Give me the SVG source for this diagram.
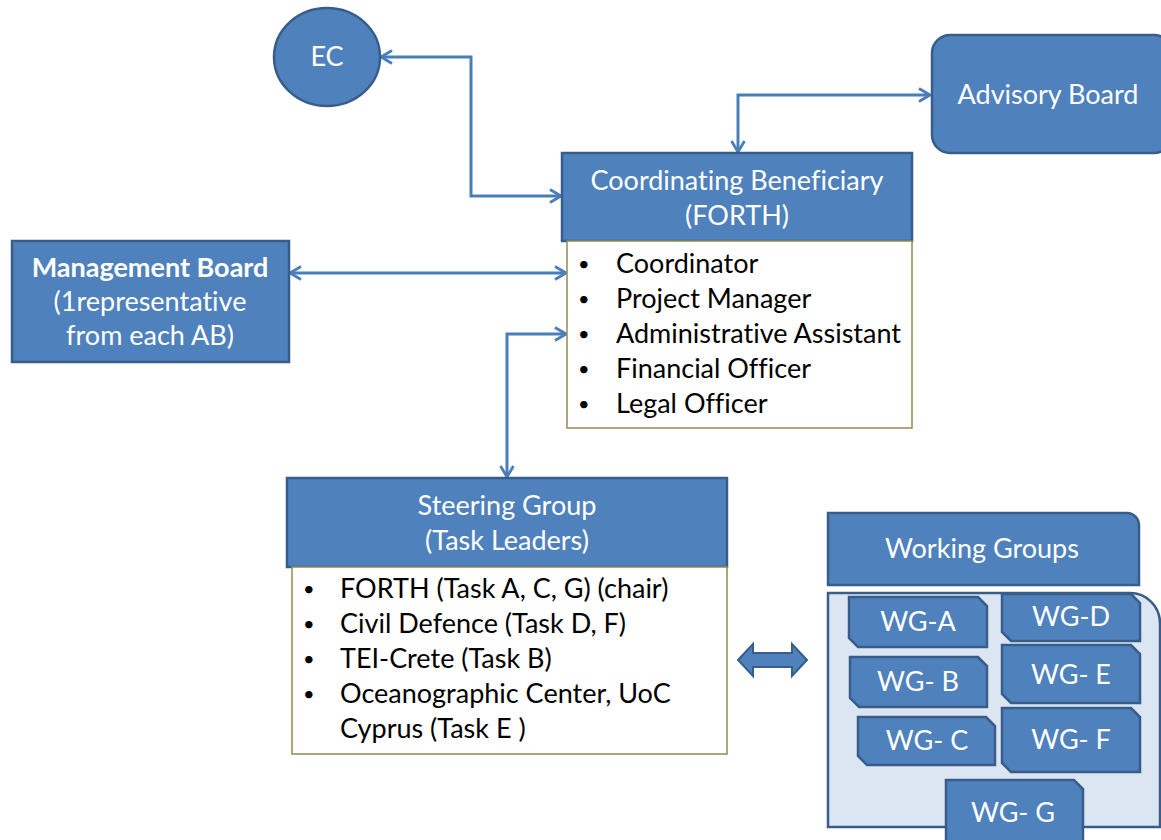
<svg xmlns="http://www.w3.org/2000/svg" width="1161" height="840" viewBox="0 0 1161 840">
<defs>
<style>
.box{fill:#4f81bd;stroke:#385d8a;stroke-width:2.5}
.list{fill:#ffffff;stroke:#948a54;stroke-width:1.5}
.wt{fill:#ffffff;font-family:Lato,"Liberation Sans",sans-serif;font-size:27px;text-anchor:middle;font-variant-ligatures:none}
.bt{fill:#000000;font-family:Lato,"Liberation Sans",sans-serif;font-size:27px;font-variant-ligatures:none}
.bl{font-size:20px}
.con{fill:none;stroke:#4a7ebb;stroke-width:3;marker-start:url(#chev);marker-end:url(#chev)}
.cont{fill:#dce6f2;stroke:#385d8a;stroke-width:2.5}
</style>
<marker id="chev" viewBox="0 0 14 16" refX="12.5" refY="8" markerWidth="14" markerHeight="16" markerUnits="userSpaceOnUse" orient="auto-start-reverse">
<path d="M1.5,1.5 L12.5,8 L1.5,14.5" fill="none" stroke="#4a7ebb" stroke-width="2.8"/>
</marker>
</defs>
<rect width="1161" height="840" fill="#ffffff"/>

<g id="connectors">
<path class="con" d="M381,57 H471 V196 H561"/>
<path class="con" d="M738,152 V95 H930"/>
<path class="con" d="M290,273 H566"/>
<path class="con" d="M566,334 H507 V477"/>
<path d="M738,660 L753,644 V653 H792 V644 L807,660 L792,676 V667 H753 V676 Z" fill="#4f81bd" stroke="#385d8a" stroke-width="2"/>
</g>

<g id="ec">
<ellipse class="box" cx="327" cy="57" rx="53" ry="49"/>
<text class="wt" x="327" y="66">EC</text>
</g>

<g id="advisory">
<rect class="box" x="932" y="35" width="240" height="118" rx="18"/>
<text class="wt" x="1048" y="104">Advisory Board</text>
</g>

<g id="coordinating">
<rect class="box" x="562" y="153" width="350" height="88"/>
<text class="wt" x="737" y="190">Coordinating Beneficiary</text>
<text class="wt" x="737" y="225">(FORTH)</text>
<rect class="list" x="567" y="241" width="345" height="187"/>
<g class="bt">
<text class="bl" x="578" y="271">•</text><text x="616" y="273">Coordinator</text>
<text class="bl" x="578" y="306">•</text><text x="616" y="308">Project Manager</text>
<text class="bl" x="578" y="341">•</text><text x="616" y="343">Administrative Assistant</text>
<text class="bl" x="578" y="376">•</text><text x="616" y="378">Financial Officer</text>
<text class="bl" x="578" y="411">•</text><text x="616" y="413">Legal Officer</text>
</g>
</g>

<g id="management">
<rect class="box" x="12" y="241" width="277" height="121"/>
<text class="wt" x="150" y="277" font-weight="bold">Management Board</text>
<text class="wt" x="150" y="311">(1representative</text>
<text class="wt" x="150" y="345">from each AB)</text>
</g>

<g id="steering">
<rect class="box" x="287" y="478" width="440" height="89"/>
<text class="wt" x="507" y="515">Steering Group</text>
<text class="wt" x="507" y="550">(Task Leaders)</text>
<rect class="list" x="292" y="567" width="435" height="187"/>
<g class="bt">
<text class="bl" x="303" y="596">•</text><text x="340" y="598">FORTH (Task A, C, G) (chair)</text>
<text class="bl" x="303" y="631">•</text><text x="340" y="633">Civil Defence (Task D, F)</text>
<text class="bl" x="303" y="666">•</text><text x="340" y="668">TEI-Crete (Task B)</text>
<text class="bl" x="303" y="701">•</text><text x="340" y="703">Oceanographic Center, UoC</text>
<text x="340" y="738">Cyprus (Task E )</text>
</g>
</g>

<g id="working-groups">
<path class="box" d="M828,513 H1127 A12,12 0 0 1 1139,525 V585 H828 Z"/>
<text class="wt" x="982" y="558">Working Groups</text>
<path class="cont" d="M828,593 H1130 A30,30 0 0 1 1160,623 V827 H828 Z"/>
</g>

<g id="wg-a">
<path class="box" d="M849,597 H978 L987,606 V647 H858 L849,638 Z"/>
<text class="wt" x="918" y="631">WG-A</text>
</g>
<g id="wg-b">
<path class="box" d="M850,657 H978 L987,666 V707 H859 L850,698 Z"/>
<text class="wt" x="918" y="691">WG- B</text>
</g>
<g id="wg-c">
<path class="box" d="M858,717 H986 L995,726 V765 H867 L858,756 Z"/>
<text class="wt" x="927" y="750">WG- C</text>
</g>
<g id="wg-d">
<path class="box" d="M1002,594 H1131 L1140,603 V641 H1011 L1002,632 Z"/>
<text class="wt" x="1071" y="626">WG-D</text>
</g>
<g id="wg-e">
<path class="box" d="M1002,645 H1131 L1140,654 V703 H1011 L1002,694 Z"/>
<text class="wt" x="1071" y="684">WG- E</text>
</g>
<g id="wg-f">
<path class="box" d="M1002,708 H1131 L1140,717 V772 H1011 L1002,763 Z"/>
<text class="wt" x="1071" y="749">WG- F</text>
</g>
<g id="wg-g">
<path class="box" d="M946,780 H1074 L1083,789 V852 H955 L946,843 Z"/>
<text class="wt" x="1013" y="822">WG- G</text>
</g>
</svg>
